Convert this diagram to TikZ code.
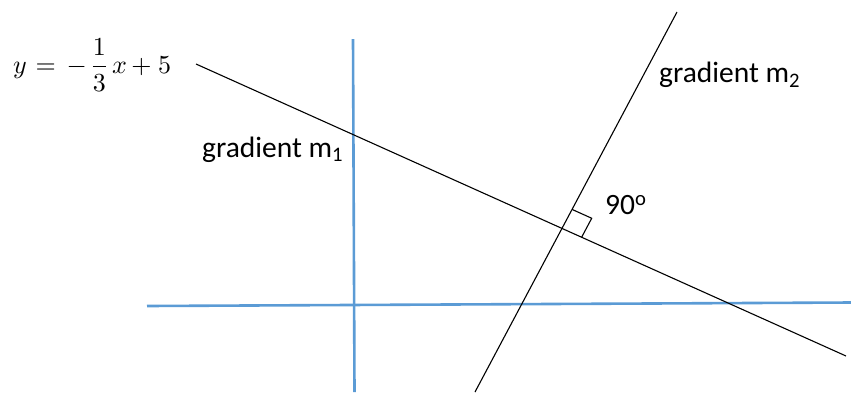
\documentclass[tikz,border=0pt]{standalone}
\usepackage{amsmath}
\usepackage{fontspec}
\newfontfamily\carl{Carlito}
\usetikzlibrary{calc}
\definecolor{axisblue}{RGB}{91,155,213}
\begin{document}
\begin{tikzpicture}[x=1pt,y=-1pt,
  axisline/.style={draw=axisblue,line width=2.6pt},
  blackline/.style={draw=black,line width=1.1pt},
  lbl/.style={inner sep=0pt,anchor=base west,font=\carl\fontsize{29.5}{35}\selectfont},
  eqlbl/.style={inner sep=0pt,anchor=base west,scale=2.6}]
\useasboundingbox (0,0) rectangle (851,392);
% coordinates
\coordinate (Vt) at (353,39);
\coordinate (Vb) at (354.5,392);
\coordinate (Hl) at (147,306);
\coordinate (Hr) at (851,302.5);
\coordinate (L1a) at (196,64);
\coordinate (L1b) at (846,356);
\coordinate (L2a) at (475,392);
\coordinate (L2b) at (677,12);
% blue axes
\draw[axisline] (Vt) -- (Vb);
\draw[axisline] (Hl) -- (Hr);
% black lines
\draw[blackline] (L1a) -- (L1b);
\draw[blackline] (L2a) -- (L2b);
% right angle marker
\coordinate (P) at (intersection of L1a--L1b and L2a--L2b);
\coordinate (RA) at ($(P)!21.5pt!(L2b)$);
\coordinate (RC) at ($(P)!21.5pt!(L1b)$);
\coordinate (RD) at ($(RA)+(RC)-(P)$);
\draw[blackline] (RA) -- (RD) -- (RC);
% labels
\node[eqlbl] (eq) at (12.5,73.3) {${y}\kern3.4pt{=}\kern4.2pt{-}\kern1.1pt{\dfrac{1}{3}}\kern1.2pt{x}\kern1.7pt{+}\kern2.5pt{5}$};
\node[lbl] (m1) at (202,157) {gradient m\textsubscript{1}};
\node[lbl] (m2) at (659,82.5) {gradient m\textsubscript{2}};
\node[lbl] (ang) at (605,214.5) {90\textsuperscript{o}};
\end{tikzpicture}
\end{document}
